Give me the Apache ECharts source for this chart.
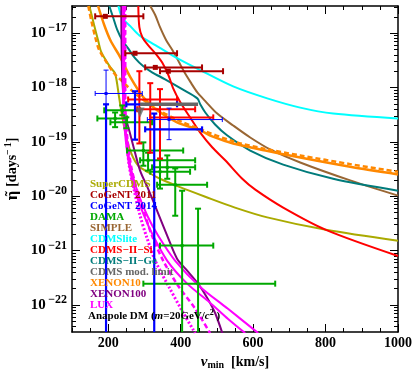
<!DOCTYPE html>
<html>
<head>
<meta charset="utf-8">
<script src="https://cdn.jsdelivr.net/npm/echarts@6/dist/echarts.min.js"></script>
<style>
html, body { margin: 0; padding: 0; background: #fff; }
#main { width: 413px; height: 372px; }
</style>
</head>
<body>
<div id="main"></div>
<script>
var chart = echarts.init(document.getElementById('main'));

var SERIF = "'Liberation Serif', 'DejaVu Serif', serif";
var V_MIN = 100, V_MAX = 1000;
var LOG_MIN = -22.5, LOG_MAX = -16.5;   // y is log10 of eta-tilde [days^-1]

// x ticks
var vMajor = [200, 400, 600, 800, 1000];
var decades = [-22, -21, -20, -19, -18, -17];

// limit curves: [v_min (km/s), log10 eta]
var superCDMS = [[148,-16.50],[161,-16.85],[172,-17.13],[181,-17.35],[206,-17.63],[219,-17.74],[230,-18.18],[239,-18.55],[252,-18.97],[266,-19.25],[283,-19.44],[310,-19.56],[343,-19.68],[393,-19.82],[468,-20.01],[550,-20.21],[639,-20.39],[801,-20.62],[1000,-20.82]];
var simple = [[316,-16.50],[330,-16.67],[343,-16.89],[360,-17.13],[377,-17.31],[396,-17.54],[412,-17.74],[429,-17.92],[446,-18.09],[468,-18.25],[501,-18.48],[545,-18.70],[592,-18.92],[647,-19.14],[730,-19.38],[868,-19.71],[1000,-19.99]];
var cdmsLite = [[228,-16.50],[239,-16.72],[261,-16.87],[286,-17.04],[330,-17.22],[385,-17.44],[454,-17.68],[545,-17.98],[639,-18.20],[730,-18.37],[821,-18.48],[1000,-18.57]];
var cdmsSi = [[283,-16.50],[286,-16.89],[294,-17.07],[310,-17.22],[330,-17.37],[349,-17.54],[366,-17.77],[379,-18.01],[399,-18.27],[426,-18.55],[454,-18.83],[487,-19.10],[523,-19.34],[570,-19.68],[606,-19.88],[683,-20.21],[801,-20.62],[1000,-21.10]];
var cdmsGe = [[203,-16.50],[214,-16.72],[225,-16.94],[239,-17.13],[255,-17.28],[274,-17.46],[297,-17.61],[321,-17.72],[357,-17.85],[404,-18.03],[446,-18.20],[454,-18.31],[468,-18.46],[495,-18.68],[528,-18.88],[592,-19.16],[683,-19.42],[821,-19.68],[1000,-19.90]];
var xenon10 = [[172,-16.50],[189,-16.85],[206,-17.13],[233,-17.44],[261,-17.81],[297,-18.18],[335,-18.42],[390,-18.64],[454,-18.79],[487,-18.90],[545,-19.03],[634,-19.16],[730,-19.29],[868,-19.46],[1000,-19.60]];
var xenon10Dashed = [[145,-16.50],[153,-16.76],[164,-17.07],[175,-17.31],[192,-17.50],[214,-17.72],[241,-17.90],[274,-18.11],[330,-18.38],[399,-18.62],[454,-18.77],[545,-18.99],[634,-19.13],[730,-19.25],[868,-19.41],[1000,-19.55]];
var xenon100 = [[236,-16.50],[239,-17.87],[247,-18.51],[258,-18.79],[269,-19.07],[288,-19.53],[310,-19.86],[335,-20.27],[363,-20.73],[390,-21.15],[418,-21.37],[448,-21.61],[473,-21.87],[495,-22.15],[515,-22.52]];
var luxOuter = [[244,-16.50],[244,-18.24],[250,-18.88],[261,-19.44],[280,-19.90],[308,-20.36],[338,-20.73],[385,-21.19],[454,-21.67],[528,-22.06],[614,-22.52]];
var luxInner = [[241,-16.50],[241,-18.24],[247,-18.88],[258,-19.44],[274,-19.90],[299,-20.36],[324,-20.73],[363,-21.19],[418,-21.61],[481,-21.96],[531,-22.26],[578,-22.52]];
var luxDashed = [[247,-16.50],[247,-18.24],[252,-18.88],[263,-19.44],[280,-19.90],[302,-20.36],[321,-20.73],[352,-21.19],[393,-21.65],[440,-22.07],[481,-22.52]];
var luxDotted = [[244,-16.50],[244,-18.24],[250,-18.88],[258,-19.44],[272,-19.90],[288,-20.36],[305,-20.73],[330,-21.19],[366,-21.65],[404,-22.11],[440,-22.52]];

// measured points: [v, log10 eta, vLow, vHigh, logLow, logHigh]; logLow = LOG_MIN means down to zero
var coGeNT2011 = [[192,-16.69,164,297,-16.69,-16.69],[274,-17.37,247,390,-17.37,-17.37],[330,-17.63,302,459,-17.63,-17.63],[366,-17.70,343,517,-17.70,-17.70]];
var coGeNT2014Thin = [[194,-18.11,164,294,-18.31,-17.68],[368,-18.59,308,515,-18.96,-18.38]];
var coGeNT2014 = [[194,-18.31,194,194,LOG_MIN,-18.31],[274,-18.31,250,390,-18.96,-18.07],[327,-18.77,302,459,LOG_MIN,-18.48]];
var cdmsSiPoints = [[286,-18.22,255,390,-19.03,-17.70],[316,-18.40,280,440,-19.20,-17.92],[343,-18.55,316,490,-19.31,-18.03]];
var dama = [
  [219,-18.57,170,252,-18.73,-18.46],
  [239,-18.42,189,288,-18.51,-18.33],
  [250,-18.64,206,321,-18.75,-18.55],
  [297,-19.16,252,407,-19.44,-19.01],
  [310,-19.34,288,440,-19.53,-19.20],
  [343,-19.55,316,426,-19.86,-19.31],
  [363,-19.47,321,440,-19.68,-19.25],
  [385,-19.79,335,473,-20.36,-19.49],
  [404,-20.91,343,490,LOG_MIN,-19.90],
  [448,-21.61,297,661,LOG_MIN,-20.23]
];
var cdmsModLine = [[288,-18.31],[448,-18.31]];
var cdmsModArrow = [[288,-18.46]];

var legendNames = ['SuperCDMS','CoGeNT 2011','CoGeNT 2014','DAMA','SIMPLE','CDMSlite','CDMS\u2212II\u2212Si','CDMS\u2212II\u2212Ge','CDMS mod. limit','XENON10','XENON100','LUX'];
var colors = {
  superCDMS: '#aaaa00', cogent11: '#a80000', cogent14: '#0000ff', dama: '#00a800',
  simple: '#996633', lite: '#00ffff', si: '#ff0000', ge: '#007b7b', mod: '#666666',
  x10: '#ff8800', x100: '#800080', lux: '#ff00ff'
};
var legendColors = [colors.superCDMS, colors.cogent11, colors.cogent14, colors.dama, colors.simple, colors.lite, colors.si, colors.ge, colors.mod, colors.x10, colors.x100, colors.lux];

function minorLogTicks() {
  var t = [];
  for (var n = -23; n <= -17; n++) {
    for (var k = 2; k <= 9; k++) {
      var v = n + Math.log10(k);
      if (v > LOG_MIN && v < LOG_MAX) t.push(v);
    }
  }
  return t;
}
var vMinor = [];
for (var v = 100; v <= 1000; v += 50) vMinor.push(v);

function curve(name, data, color, type, width) {
  return {
    name: name, type: 'line', data: data, showSymbol: false, smooth: 0.3,
    lineStyle: { color: color, width: width || 2, type: type || 'solid' },
    itemStyle: { color: color }, z: 2, silent: true
  };
}

function errorBars(color, width, cap, marker) {
  return function (params, api) {
    var c = api.coord([api.value(0), api.value(1)]);
    var xl = api.coord([api.value(2), api.value(1)])[0];
    var xh = api.coord([api.value(3), api.value(1)])[0];
    var yl = api.coord([api.value(0), api.value(4)])[1];
    var yh = api.coord([api.value(0), api.value(5)])[1];
    var st = { stroke: color, lineWidth: width };
    var kids = [];
    var h = cap / 2;
    if (xh - xl > 1) {
      kids.push({ type: 'line', shape: { x1: xl, y1: c[1], x2: xh, y2: c[1] }, style: st });
      kids.push({ type: 'line', shape: { x1: xl, y1: c[1] - h, x2: xl, y2: c[1] + h }, style: st });
      kids.push({ type: 'line', shape: { x1: xh, y1: c[1] - h, x2: xh, y2: c[1] + h }, style: st });
    }
    if (yl - yh > 1) {
      kids.push({ type: 'line', shape: { x1: c[0], y1: yh, x2: c[0], y2: yl }, style: st });
      kids.push({ type: 'line', shape: { x1: c[0] - h, y1: yh, x2: c[0] + h, y2: yh }, style: st });
      if (api.value(4) > LOG_MIN) {
        kids.push({ type: 'line', shape: { x1: c[0] - h, y1: yl, x2: c[0] + h, y2: yl }, style: st });
      }
    }
    if (marker) {
      kids.push({ type: 'rect', shape: { x: c[0] - marker / 2, y: c[1] - marker / 2, width: marker, height: marker }, style: { fill: color } });
    }
    return { type: 'group', children: kids };
  };
}

function bars(name, data, color, width, cap, marker) {
  return {
    name: name, type: 'custom', data: data, clip: true, silent: true,
    renderItem: errorBars(color, width, cap, marker),
    encode: { x: 0, y: 1 }, itemStyle: { color: color }, z: 3
  };
}

var frameLine = { show: true, onZero: false, lineStyle: { color: '#000', width: 1.5 } };
var noLine = { show: false, onZero: false };

function xAx(pos, ticks, len, withLine) {
  return {
    type: 'value', min: V_MIN, max: V_MAX, position: pos,
    axisLine: withLine ? frameLine : noLine,
    axisTick: { show: true, inside: true, length: len, customValues: ticks, lineStyle: { color: '#000', width: 1 } },
    axisLabel: { show: false },
    splitLine: { show: false }
  };
}
function yAx(pos, ticks, len, withLine) {
  return {
    type: 'value', min: LOG_MIN, max: LOG_MAX, position: pos,
    axisLine: withLine ? frameLine : noLine,
    axisTick: { show: true, inside: true, length: len, customValues: ticks, lineStyle: { color: '#000', width: 1 } },
    axisLabel: { show: false },
    splitLine: { show: false }
  };
}

var xMain = xAx('bottom', vMinor, 4, true);
xMain.axisLabel = {
  show: true, customValues: vMajor, margin: 4,
  formatter: function (v) { return String(v); },
  fontFamily: SERIF, fontWeight: 'bold', fontSize: 14, color: '#000'
};
xMain.name = '{v|v}{m|min}  [km/s]';
xMain.nameLocation = 'middle';
xMain.nameGap = 20;
xMain.nameTextStyle = {
  fontFamily: SERIF, fontWeight: 'bold', fontSize: 14, color: '#000',
  rich: {
    v: { fontFamily: SERIF, fontStyle: 'italic', fontWeight: 'bold', fontSize: 15, color: '#000' },
    m: { fontFamily: SERIF, fontWeight: 'bold', fontSize: 10, color: '#000', padding: [7, 0, 0, 0] }
  }
};

var yMain = yAx('left', decades, 8, true);
yMain.axisLabel = {
  show: true, customValues: decades, margin: 5,
  formatter: function (v) { return '{b|10}{s|\u2009\u2212' + Math.round(-v) + '}'; },
  rich: {
    b: { fontFamily: SERIF, fontWeight: 'bold', fontSize: 15, color: '#000' },
    s: { fontFamily: SERIF, fontWeight: 'bold', fontSize: 12, color: '#000', padding: [0, 0, 10, 0] }
  }
};
yMain.name = '{e|\u03b7\u0303} [days{s|\u2212\u20091}]';
yMain.nameLocation = 'middle';
yMain.nameGap = 48;
yMain.nameRotate = 90;
yMain.nameTextStyle = {
  fontFamily: SERIF, fontWeight: 'bold', fontSize: 14, color: '#000',
  rich: {
    e: { fontFamily: "'DejaVu Serif', serif", fontWeight: 'bold', fontSize: 14, color: '#000' },
    s: { fontFamily: SERIF, fontWeight: 'bold', fontSize: 10, color: '#000', padding: [0, 0, 9, 0] }
  }
};

var option = {
  backgroundColor: '#fff',
  animation: false,
  grid: { left: 72, right: 15, top: 6, bottom: 40, containLabel: false, outerBoundsMode: 'none' },
  title: {
    text: 'Anapole DM ({i|m}=20GeV/{i|c}{s|2} )',
    left: 88, top: 309, padding: 0,
    textStyle: {
      fontFamily: SERIF, fontWeight: 'bold', fontSize: 11, color: '#000',
      rich: {
        i: { fontFamily: SERIF, fontStyle: 'italic', fontWeight: 'bold', fontSize: 11, color: '#000' },
        s: { fontFamily: SERIF, fontWeight: 'bold', fontSize: 8, color: '#000', padding: [0, 0, 7, 0] }
      }
    }
  },
  legend: {
    orient: 'vertical', left: 84, top: 179, padding: 0, itemGap: 0,
    itemWidth: 1, itemHeight: 10.8, icon: 'none', selectedMode: false,
    textStyle: { fontFamily: SERIF, fontWeight: 'bold', fontSize: 11, lineHeight: 10.8 },
    data: legendNames.map(function (n, i) { return { name: n, textStyle: { color: legendColors[i] } }; })
  },
  xAxis: [
    xMain,
    xAx('bottom', vMajor, 8, false),
    xAx('top', vMinor, 4, true),
    xAx('top', vMajor, 8, false)
  ],
  yAxis: [
    yMain,
    yAx('left', minorLogTicks(), 4, false),
    yAx('right', decades, 8, true),
    yAx('right', minorLogTicks(), 4, false)
  ],
  series: [
    curve('SuperCDMS', superCDMS, colors.superCDMS),
    curve('SIMPLE', simple, colors.simple),
    curve('CDMSlite', cdmsLite, colors.lite),
    curve('CDMS\u2212II\u2212Ge', cdmsGe, colors.ge),
    curve('CDMS\u2212II\u2212Si', cdmsSi, colors.si),
    curve('XENON10', xenon10, colors.x10, 'solid', 2.5),
    curve('XENON10', xenon10Dashed, colors.x10, [5, 3], 2.5),
    curve('XENON100', xenon100, colors.x100),
    curve('LUX', luxOuter, colors.lux),
    curve('LUX', luxInner, colors.lux),
    curve('LUX', luxDashed, colors.lux, [5, 3], 2.5),
    curve('LUX', luxDotted, colors.lux, [2, 2], 3),
    {
      name: 'CDMS mod. limit', type: 'line', data: cdmsModLine, showSymbol: false, silent: true,
      lineStyle: { color: colors.mod, width: 3.5 }, itemStyle: { color: colors.mod }, z: 3
    },
    {
      name: 'CDMS mod. limit', type: 'scatter', data: cdmsModArrow, symbol: 'triangle', symbolRotate: 180,
      symbolSize: [9, 10], itemStyle: { color: colors.mod }, silent: true, z: 3
    },
    bars('DAMA', dama, colors.dama, 2, 6, 3),
    bars('CDMS\u2212II\u2212Si', cdmsSiPoints, colors.si, 2, 6, 0),
    bars('CoGeNT 2011', coGeNT2011, colors.cogent11, 2, 6, 5),
    bars('CoGeNT 2014', coGeNT2014, colors.cogent14, 2.2, 6, 0),
    bars('CoGeNT 2014', coGeNT2014Thin, colors.cogent14, 1, 5, 3)
  ]
};

chart.setOption(option);
</script>
</body>
</html>
